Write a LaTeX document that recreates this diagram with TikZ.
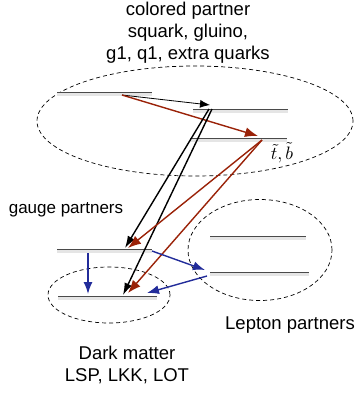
\documentclass[tikz,border=0pt]{standalone}
\usepackage{fontspec}
\setmainfont{Liberation Sans}
\usetikzlibrary{arrows.meta,shapes.geometric}
\definecolor{decayred}{HTML}{9A2208}
\definecolor{decayblue}{HTML}{222C9A}
\definecolor{levelgray}{HTML}{4A4A4A}
\tikzset{
  level/.style={
    draw=levelgray,
    line width=1pt,
    preaction={draw=black!10, line width=3pt, transform canvas={yshift=-2pt}}
  },
  sector/.style={
    ellipse,
    draw=black,
    dashed,
    dash pattern=on 4pt off 3pt,
    line width=0.7pt,
    inner sep=0pt
  },
  textlabel/.style={
    align=center,
    font=\fontsize{18.5}{22}\selectfont,
    inner sep=0pt
  },
  thinarrow/.style={
    -{Latex[length=10pt,width=8pt]},
    line width=0.8pt,
    draw=black
  },
  blackarrow/.style={
    -{Latex[length=12pt,width=8pt]},
    line width=1.4pt,
    draw=black
  },
  redarrow/.style={
    -{Latex[length=13pt,width=10pt]},
    line width=1.4pt,
    draw=decayred
  },
  bluearrow/.style={
    -{Latex[length=12pt,width=9pt]},
    line width=1.4pt,
    draw=decayblue
  }
}

\begin{document}
\begin{tikzpicture}[x=1pt,y=-1pt]
\useasboundingbox (0,0) rectangle (354,394);

% sectors
\node[sector, minimum width=316pt, minimum height=110pt] (colored) at (195,121) {};
\node[sector, minimum width=122pt, minimum height=56pt] (darkm) at (109,295) {};
\node[sector, minimum width=144pt, minimum height=101pt] (lepton) at (260,250) {};

% labels
\node[textlabel] (coltitle) at (188,33) {colored partner\\squark, gluino,\\g1, q1, extra quarks};
\node[textlabel, font=\fontsize{17}{20}\selectfont] (gaugetitle) at (66,210) {gauge partners};
\node[textlabel] (leptitle) at (290,325) {Lepton partners};
\node[textlabel] (dmtitle) at (127,365) {Dark matter\\LSP, LKK, LOT};
\node[inner sep=0pt, scale=1.8] (stlabel) at (282,153) {$\tilde{t},\tilde{b}$};

% levels
\coordinate (c1l) at (57,92);   \coordinate (c1r) at (152,92);
\coordinate (c2l) at (193,109); \coordinate (c2r) at (288,109);
\coordinate (c3l) at (190,138); \coordinate (c3r) at (287,138);
\coordinate (gl) at (57,249);   \coordinate (gr) at (152,249);
\coordinate (dl) at (58,296);   \coordinate (dr) at (157,296);
\coordinate (l1l) at (210,236); \coordinate (l1r) at (306,236);
\coordinate (l2l) at (210,272); \coordinate (l2r) at (309,272);
\foreach \a/\b in {c1l/c1r,c2l/c2r,c3l/c3r,gl/gr,dl/dr,l1l/l1r,l2l/l2r}
  \draw[level] (\a) -- (\b);

% decay ends
\coordinate (c1a) at (122,95);
\coordinate (c2a) at (210,105);
\coordinate (c2b) at (209,109);
\coordinate (c2c) at (212,109);
\coordinate (c3a) at (258,136);
\coordinate (c3b) at (262,140);
\coordinate (ga) at (125,248);
\coordinate (gb) at (128,248);
\coordinate (da) at (123,295);
\coordinate (db) at (128,293);
\coordinate (gc) at (88,253);
\coordinate (dc) at (88,294);
\coordinate (gd) at (152,251);
\coordinate (la) at (205,270);
\coordinate (lb) at (207,276);
\coordinate (dd) at (147,293);

% decays
\draw[thinarrow] (c1a) -- (c2a);
\draw[redarrow] (c1a) -- (c3a);
\draw[blackarrow] (c2b) -- (ga);
\draw[blackarrow] (c2c) -- (da);
\draw[redarrow] (c3b) -- (gb);
\draw[redarrow] (c3b) -- (db);
\draw[bluearrow] (gc) -- (dc);
\draw[bluearrow] (gd) -- (la);
\draw[bluearrow] (lb) -- (dd);
\end{tikzpicture}
\end{document}
